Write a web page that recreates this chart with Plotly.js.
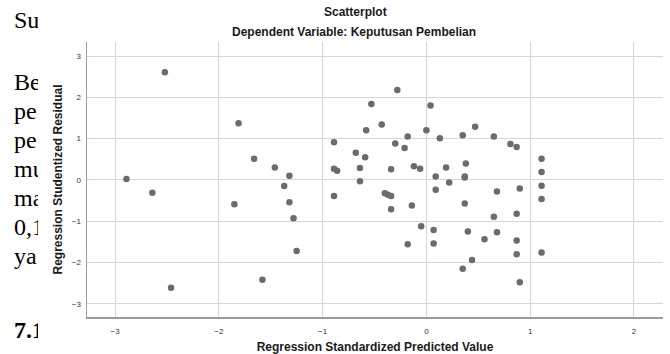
<!DOCTYPE html>
<html>
<head>
<meta charset="utf-8">
<script src="https://cdn.plot.ly/plotly-3.0.1.min.js"></script>
<style>html,body{margin:0;padding:0;background:#fff;}#chart{width:670px;height:354px;}</style>
</head>
<body>
<div id="chart"></div>
<script>
// Data
const predictedValue = [-2.89,-2.64,-2.52,-2.46,-1.85,-1.81,-1.66,-1.58,-1.46,-1.37,-1.32,-1.32,-1.28,-1.25,
  -0.89,-0.89,-0.86,-0.89,-0.68,-0.64,-0.64,-0.59,-0.58,-0.53,-0.43,-0.40,-0.37,-0.34,-0.34,-0.34,
  -0.30,-0.28,-0.21,-0.18,-0.18,-0.14,-0.12,-0.06,-0.05,0.00,0.04,0.07,0.07,0.09,0.09,0.13,0.19,0.22,
  0.35,0.35,0.37,0.37,0.37,0.38,0.40,0.44,0.47,0.56,0.65,0.65,0.68,0.68,0.81,0.87,0.87,0.87,0.87,
  0.90,0.90,1.11,1.11,1.11,1.11,1.11];
const studentizedResidual = [0.02,-0.31,2.61,-2.61,-0.59,1.37,0.51,-2.42,0.30,-0.15,0.10,-0.54,-0.93,-1.72,
  0.91,0.27,0.22,-0.39,0.66,0.29,-0.03,0.55,1.20,1.84,1.34,-0.32,-0.36,-0.39,0.26,-0.71,
  0.88,2.18,0.77,1.05,-1.56,-0.62,0.33,0.27,-1.12,1.20,1.80,-1.21,-1.54,0.08,-0.24,1.01,0.30,-0.06,
  1.08,-2.15,0.08,0.06,-0.57,0.40,-1.25,-1.94,1.29,-1.44,1.05,-0.89,-0.28,-1.27,0.87,0.80,-0.82,-1.47,-1.80,
  -0.21,-2.48,0.51,0.19,-0.14,-0.46,-1.76];
const xTicks = [-3,-2,-1,0,1,2];
const yTicks = [-3,-2,-1,0,1,2,3];
const chartTitle = 'Scatterplot';
const chartSubtitle = 'Dependent Variable: Keputusan Pembelian';
const xTitle = 'Regression Standardized Predicted Value';
const yTitle = 'Regression Studentized Residual';
// Surrounding document text visible at the left edge
const docTexts = ['Su','Be','pe','pe','mu','ma','0,1','ya','7.1'];
const docCenters = [20,82,111,140,169,198,227,256,330];

const L = 87, R = 7, T = 42, B = 37, W = 670, H = 354;
const pw = W - L - R, ph = H - T - B;
const px2paperX = p => (p - L) / pw;
const py2paperY = p => (H - B - p) / ph;

const titleFont = {family:'Liberation Sans, Arial', size:12, color:'#1a1a1a'};
const annotations = [
  {text: '<b>' + chartTitle + '</b>', xref:'paper', yref:'paper', x: px2paperX(355), y: py2paperY(12), showarrow:false,
   xanchor:'center', yanchor:'middle', font:titleFont},
  {text: '<b>' + chartSubtitle + '</b>', xref:'paper', yref:'paper', x: px2paperX(354), y: py2paperY(32), showarrow:false,
   xanchor:'center', yanchor:'middle', font:titleFont}
];
docTexts.forEach((t, i) => {
  annotations.push({text: i === docTexts.length - 1 ? '<b>' + t + '</b>' : t,
    xref:'paper', yref:'paper', x: px2paperX(12), y: py2paperY(docCenters[i]),
    showarrow:false, xanchor:'left', yanchor:'middle', align:'left', width: 24,
    font:{family:'Liberation Serif, Times New Roman', size:24, color:'#000'}});
});

const trace = {
  type:'scatter', mode:'markers', x: predictedValue, y: studentizedResidual,
  marker:{size:6.5, color:'#6b6b6b'}, hoverinfo:'none'
};

const layout = {
  width: W, height: H, margin:{l:L, r:R, t:T, b:B, pad:0},
  paper_bgcolor:'#fff', plot_bgcolor:'#fff', showlegend:false,
  font:{family:'Liberation Sans, Arial', color:'#333'},
  xaxis:{range:[-3.27,2.28], tickvals:xTicks,
    showgrid:true, gridcolor:'#d6d6d6', gridwidth:1, zeroline:false,
    showline:true, linecolor:'#9c9c9c', linewidth:1.5,
    ticks:'outside', ticklen:6, tickcolor:'rgba(0,0,0,0)', tickfont:{size:8, color:'#333'},
    title:{text:'<b>'+xTitle+'</b>', font:titleFont, standoff:7}},
  yaxis:{range:[-3.32,3.34], tickvals:yTicks,
    showgrid:true, gridcolor:'#d6d6d6', gridwidth:1, zeroline:false,
    showline:true, linecolor:'#9c9c9c', linewidth:1.5,
    ticks:'outside', ticklen:3, tickcolor:'rgba(0,0,0,0)', tickfont:{size:8, color:'#333'},
    title:{text:'<b>'+yTitle+'</b>', font:titleFont, standoff:6}},
  annotations: annotations
};

Plotly.newPlot('chart', [trace], layout, {staticPlot:true, displayModeBar:false});
</script>
</body>
</html>
